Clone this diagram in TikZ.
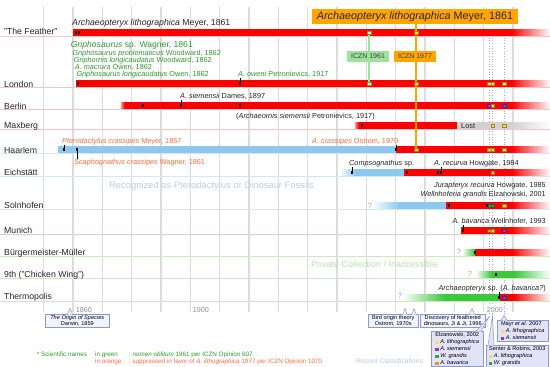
\documentclass[tikz,border=0pt]{standalone}
\usepackage{fontspec}
\setmainfont{Liberation Sans}
\newcommand{\myfs}[1]{\fontsize{#1}{#1}\selectfont}
\newcommand{\sqm}[1]{\textcolor{#1}{\rule{3.3pt}{3.3pt}}}
% horizontal fade made of thin strips: x1,x2,y1,y2,colour from,colour to
\newcommand{\hfade}[6]{%
  \foreach \k in {0,...,24}{%
    \pgfmathsetmacro{\xa}{#1+(#2-#1)*\k/25}%
    \pgfmathsetmacro{\xb}{#1+(#2-#1)*(\k+1)/25+0.25}%
    \pgfmathtruncatemacro{\pc}{100-4*\k-2}%
    \fill[#5!\pc!#6] (\xa,#3) rectangle (\xb,#4);
  }%
}
\definecolor{bred}{HTML}{FF0000}
\colorlet{pinkred}{bred!35}
\definecolor{bblue}{HTML}{8CC8F0}
\definecolor{bgreen}{HTML}{3CC83C}
\definecolor{tgreen}{HTML}{2E9A2E}
\definecolor{torange}{HTML}{FF6A3C}
\definecolor{iorange}{HTML}{FFA500}
\definecolor{igreen}{HTML}{9CE49C}
\definecolor{gridc}{HTML}{DCDCDC}
\definecolor{dotc}{HTML}{A8A8F0}
\definecolor{plith}{HTML}{FFE040}
\definecolor{psiem}{HTML}{8A3CC8}
\definecolor{pgran}{HTML}{3CA03C}
\definecolor{pbav}{HTML}{E89418}
\definecolor{ppale}{HTML}{DDE8A8}
\definecolor{boxf}{HTML}{F0F4FF}
\definecolor{boxc}{HTML}{E2E2F8}
\definecolor{boxd}{HTML}{8A96E6}
\definecolor{rowred}{HTML}{F4C4C4}
\definecolor{rowblue}{HTML}{D4E6F4}
\definecolor{rowgreen}{HTML}{C8ECC0}
\definecolor{fadetext}{HTML}{C4CCDA}
\definecolor{fadegreen}{HTML}{B8E2B0}
\definecolor{lostgray}{HTML}{D2D2D2}
\definecolor{recent}{HTML}{B8C8E2}
\tikzset{
  rowlab/.style={anchor=base west, inner sep=0pt, font=\myfs{8.7}, text=black!85},
  gsci/.style={anchor=base west, inner sep=0pt, font=\myfs{7.3}, text=tgreen},
  osci/.style={anchor=base west, inner sep=0pt, font=\myfs{7.3}, text=torange},
  ksci/.style={anchor=base west, inner sep=0pt, font=\myfs{7.3}, text=black!85},
  esci/.style={anchor=base east, inner sep=0pt, font=\myfs{7.3}, text=black!85},
  qm/.style={anchor=base, inner sep=0pt, font=\myfs{7.5}, text=black!35},
  gridl/.style={draw=gridc, line width=1.3pt},
  dotl/.style={draw=dotc, dotted, line width=0.6pt},
  mkr/.style={draw=#1!60!black, fill=#1, minimum size=3.4pt, inner sep=0pt, line width=0.3pt},
  dotm/.style={fill=black, minimum size=2.2pt, inner sep=0pt},
  tk/.style={draw=black, line width=0.4pt},
  cbox/.style={draw=boxd, fill=boxf, line width=0.5pt, inner sep=1pt, align=center, font=\fontsize{5.6}{6.5}\selectfont, anchor=north west},
  clbox/.style={draw=boxd, fill=boxc, line width=0.5pt, inner sep=1.5pt, align=left, font=\fontsize{5.6}{7}\selectfont, anchor=north west},
  yrlab/.style={anchor=base west, inner sep=0.6pt, font=\myfs{7.2}, text=black!45, fill=white},
  leg/.style={anchor=base west, inner sep=0pt, font=\myfs{6.3}},
  iczn/.style={inner sep=0pt, minimum width=42pt, minimum height=11pt, font=\myfs{7}, text=black!75},
}
\begin{document}
\begin{tikzpicture}[x=1pt,y=-1pt]
\useasboundingbox (0,0) rectangle (550,367);
\fill[white] (0,0) rectangle (550,367);
% grid
\foreach \gx in {43.7,73,102.3,131.7,161,190.3,219.6,249,278.3,307.6,337,366.3,395.6,425,454.3,483.6,512.9}
  \draw[gridl] (\gx,7) -- (\gx,312);
% row lines
\foreach \ry/\rc in {36/rowred,87/rowred,109/rowred,129/rowred,153/rowblue,176/rowblue,209/rowblue,234/rowred,256/rowgreen,278/rowgreen,301/rowgreen}
  \draw[\rc, line width=0.7pt] (0,\ry) -- (550,\ry);
% dotted classification lines
\foreach \dx in {489,492.5,504}
  \draw[dotl] (\dx,30) -- (\dx,317);
% bars
% Feather
\fill[bred] (73,29) rectangle (512,36);
\hfade{512}{551}{29}{36}{bred}{white}
% London
\fill[bred] (76,80) rectangle (512,87);
\hfade{512}{551}{80}{87}{bred}{white}
% Berlin
\hfade{121}{125}{102}{109}{pinkred}{bred}
\fill[bred] (125,102) rectangle (512,109);
\hfade{512}{551}{102}{109}{bred}{white}
% Maxberg
\hfade{355}{359}{122}{129}{pinkred}{bred}
\fill[bred] (359,122) rectangle (457,129);
\fill[lostgray] (457,122) rectangle (512,129);
\hfade{512}{551}{122}{129}{lostgray}{white}
% Haarlem
\fill[bblue] (58,146) rectangle (396,153);
\fill[bred] (396,146) rectangle (512,153);
\hfade{512}{551}{146}{153}{bred}{white}
% Eichstaett
\hfade{340}{356}{169}{176}{white}{bblue}
\fill[bblue] (356,169) rectangle (404,176);
\fill[bred] (404,169) rectangle (512,176);
\hfade{512}{551}{169}{176}{bred}{white}
% Solnhofen
\hfade{372}{400}{202}{209}{white}{bblue}
\fill[bblue] (400,202) rectangle (446,209);
\fill[bred] (446,202) rectangle (512,209);
\hfade{512}{551}{202}{209}{bred}{white}
% Munich
\fill[bred] (461,227) rectangle (512,234);
\hfade{512}{551}{227}{234}{bred}{white}
% Buergermeister-Mueller
\hfade{463}{475}{249}{256}{white}{bgreen}
\fill[bred] (475,249) rectangle (512,256);
\hfade{512}{551}{249}{256}{bred}{white}
% 9th
\hfade{476}{492}{271}{278}{white}{bgreen}
\fill[bgreen] (492,271) rectangle (515,278);
\hfade{515}{551}{271}{278}{bgreen}{white}
% Thermopolis
\hfade{403}{445}{294}{301}{white}{bgreen}
\fill[bgreen] (445,294) rectangle (500,301);
\fill[bred] (500,294) rectangle (514,301);
\hfade{514}{551}{294}{301}{bred}{white}

% ICZN vertical lines
\coordinate (g61a) at (369,32.5);
\coordinate (g61b) at (369,83.5);
\coordinate (o77a) at (416,24);
\coordinate (o77b) at (416,149.5);
\draw[igreen, line width=2pt] (g61a) -- (g61b);
\draw[iorange, line width=2pt] (o77a) -- (o77b);

% markers
\node[dotm] (fe1) at (76,32.5) {};
\node[dotm] (fe2) at (79,32.5) {};
\node[mkr=ppale] (fe3) at (g61a) {};
\node[mkr=plith] (fe4) at (416,32.5) {};
\node[dotm] (lo1) at (78,83.5) {};
\node[dotm] (lo2) at (240,83.5) {};
\node[mkr=ppale] (lo3) at (g61b) {};
\foreach \x/\c [count=\i] in {416/plith,489/plith,492.5/plith,504/plith}
  \node[mkr=\c] (lom\i) at (\x,83.5) {};
\node[dotm] (be1) at (143,105.5) {};
\node[dotm] (be2) at (181,105.5) {};
\node[dotm] (be3) at (240,105.5) {};
\foreach \x/\c [count=\i] in {489/psiem,492.5/plith,504/psiem}
  \node[mkr=\c] (bem\i) at (\x,105.5) {};
\node[dotm] (ma1) at (362,125.5) {};
\foreach \x/\c [count=\i] in {492.5/plith,504/plith}
  \node[mkr=\c] (mam\i) at (\x,125.5) {};
\node[dotm] (ha1) at (64,149.5) {};
\node[dotm] (ha2) at (77,149.5) {};
\node[dotm] (ha3) at (396,149.5) {};
\node[mkr=plith] (ha4) at (o77b) {};
\foreach \x/\c [count=\i] in {489/plith,492.5/plith,504/plith}
  \node[mkr=\c] (ham\i) at (\x,149.5) {};
\node[dotm] (ei1) at (352,172.5) {};
\node[dotm] (ei2) at (407,172.5) {};
\node[dotm] (ei3) at (438,172.5) {};
\node[dotm] (ei4) at (441,172.5) {};
\node[mkr=plith] (ei5) at (492.5,172.5) {};
\node[dotm] (so1) at (449,205.5) {};
\node[dotm] (so2) at (487,205.5) {};
\foreach \x/\c [count=\i] in {489.5/pgran,492.5/pgran,504/plith}
  \node[mkr=\c] (som\i) at (\x,205.5) {};
\node[dotm] (mu1) at (463,230.5) {};
\foreach \x/\c [count=\i] in {489/pbav,492.5/plith,504/psiem}
  \node[mkr=\c] (mum\i) at (\x,230.5) {};
\node[dotm] (bm1) at (475,252.5) {};
\node[dotm] (ni1) at (496,274.5) {};
\node[dotm] (th1) at (499,297.5) {};
\node[mkr=psiem] (th2) at (504,297.5) {};

% top box and ICZN boxes
\node[fill=iorange, inner sep=0pt, minimum width=206pt, minimum height=15pt, font=\myfs{10.8}, text=black!85] (otitle) at (415,16.5) {\textit{Archaeopteryx lithographica} Meyer, 1861};
\node[iczn, fill=igreen] (iczn61) at (368,56.5) {ICZN 1961};
\node[iczn, fill=iorange] (iczn77) at (415,56.5) {ICZN 1977};

% row labels
\node[rowlab] (rFeather) at (4,34.5) {"The Feather"};
\node[rowlab] (rLondon) at (4,87) {London};
\node[rowlab] (rBerlin) at (4,109) {Berlin};
\node[rowlab] (rMaxberg) at (4,128.5) {Maxberg};
\node[rowlab] (rHaarlem) at (4,153) {Haarlem};
\node[rowlab] (rEich) at (4,175) {Eichstätt};
\node[rowlab] (rSoln) at (4,208) {Solnhofen};
\node[rowlab] (rMunich) at (4,233) {Munich};
\node[rowlab] (rBM) at (4,255) {Bürgermeister-Müller};
\node[rowlab] (rNinth) at (4,277) {9th ("Chicken Wing")};
\node[rowlab] (rThermo) at (4,299) {Thermopolis};

% scientific name labels
\node[ksci, font=\myfs{8.7}] (nLith) at (72,25) {\textit{Archaeopteryx lithographica} Meyer, 1861};
\node[gsci, font=\myfs{8.6}] (nGsp) at (70.7,47.5) {\textit{Griphosaurus} sp. Wagner, 1861};
\node[gsci] (nGprob) at (72.3,55) {\textit{Griphosaurus problematicus} Woodward, 1862};
\node[gsci] (nGlong) at (73.7,62.5) {\textit{Griphornis longicaudatus} Woodward, 1862};
\node[gsci] (nMacr) at (74.7,69) {\textit{A. macrura} Owen, 1862};
\node[gsci] (nGlOw) at (76.3,76.5) {\textit{Griphosaurus longicaudatus} Owen, 1862};
\node[gsci] (nOweni) at (238,76.5) {\textit{A. oweni} Petronievics, 1917};
\node[ksci] (nSiem) at (180,98.5) {\textit{A. siemensii} Dames, 1897};
\node[ksci] (nArchS) at (236,118.5) {(\textit{Archaeornis siemensii} Petronievics, 1917)};
\node[ksci, font=\myfs{7.4}] (nLost) at (461,128) {Lost};
\node[osci] (nPtero) at (62,143) {\textit{Pterodactylus crassipes} Meyer, 1857};
\node[osci] (nScaph) at (74,164) {\textit{Scaphognathus crassipes} Wagner, 1861};
\node[osci] (nCrass) at (312,143.5) {\textit{A. crassipes} Ostrom, 1970};
\node[ksci] (nCompso) at (349,165.5) {\textit{Compsognathus} sp.};
\node[ksci] (nRecurva) at (434,165.5) {\textit{A. recurva} Howgate, 1984};
\node[anchor=base west, inner sep=0pt, font=\myfs{9.4}, text=fadetext] (nRecog) at (109,188) {Recognized as Pterodactylus or Dinosaur Fossils};
\node[esci] (nJura) at (546,187) {\textit{Jurapteryx recurva} Howgate, 1985};
\node[esci] (nWelln) at (546,196.5) {\textit{Wellnhoferia grandis} Elzanowski, 2001};
\node[esci] (nBav) at (546,223.5) {\textit{A. bavarica} Wellnhofer, 1993};
\node[anchor=base west, inner sep=0pt, font=\myfs{9}, text=fadegreen] (nPriv) at (311,267) {Private Collection / Inaccessible};
\node[esci] (nThermo) at (546,290.5) {\textit{Archaeopteryx} sp. (\textit{A. bavarica?})};
\node[qm] (q1) at (370,208) {?};
\node[qm] (q2) at (459,254.5) {?};
\node[qm] (q3) at (470,276.5) {?};
\node[qm] (q4) at (400,298.5) {?};

% label ticks
\draw[tk] (lo2) -- (lo2 |- nOweni.south);
\draw[tk] (be2) -- (be2 |- nSiem.south);
\draw[tk] (ha1) -- (ha1 |- nPtero.south);
\draw[tk] (ha2) -- (ha2 |- nScaph.north);
\draw[tk] (ha3) -- (ha3 |- nCrass.south);
\draw[tk] (ei1) -- (ei1 |- nCompso.south);
\draw[tk] (ei4) -- (ei4 |- nRecurva.south);
\draw[tk] (mu1) -- (mu1 |- nBav.south);
\draw[tk] (th1) -- (th1 |- nThermo.south);

% axis labels
\node[yrlab] (y1860) at (75,312) {1860};
\node[yrlab] (y1900) at (192,312) {1900};
\node[yrlab] (y2000) at (486,312) {2000};

% bottom callouts
\node[cbox, minimum width=64pt, minimum height=13pt] (bOrigin) at (45,314) {\textit{The Origin of Species}\\Darwin, 1859};
\fill[boxf] (67.5,314.7) -- (70,308.5) -- (72.5,314.7) -- cycle;
\draw[boxd, line width=0.5pt] (67.5,314) -- (70,308.5) -- (72.5,314);
\node[cbox, minimum width=50pt, minimum height=13pt] (bBird) at (368,314) {Bird origin theory\\Ostrom, 1970s};
\fill[boxf] (403,314.7) -- (405,308.5) -- (407,314.7) -- cycle;
\draw[boxd, line width=0.5pt] (403,314) -- (405,308.5) -- (407,314);
\fill[boxf] (412,314.7) -- (414,308.5) -- (416,314.7) -- cycle;
\draw[boxd, line width=0.5pt] (412,314) -- (414,308.5) -- (416,314);
\node[cbox, minimum width=65pt, minimum height=13pt] (bDisc) at (420,314) {Discovery of feathered\\dinosaurs, Ji \& Ji, 1996};
\fill[boxf] (469.5,314.7) -- (472,308.5) -- (474.5,314.7) -- cycle;
\draw[boxd, line width=0.5pt] (469.5,314) -- (472,308.5) -- (474.5,314);

\node[clbox, minimum width=52pt, minimum height=35pt] (bElz) at (431,331) {Elzanowski, 2002\\\sqm{plith} \textit{A. lithographica}\\\sqm{psiem} \textit{A. siemensii}\\\sqm{pgran} \textit{W. grandis}\\\sqm{pbav} \textit{A. bavarica}};
\fill[boxc] (476,331.7) -- (489,317) -- (481,331.7) -- cycle;
\draw[boxd, line width=0.5pt] (476,331) -- (489,317) -- (481,331);
\node[clbox, minimum width=51pt, minimum height=21pt] (bMayr) at (497,320) {Mayr \textit{et al.} 2007\\\sqm{plith} \textit{A. lithographica}\\\sqm{psiem} \textit{A. siemensii}};
\fill[boxc] (501,320.7) -- (504,315.5) -- (507,320.7) -- cycle;
\draw[boxd, line width=0.5pt] (501,320) -- (504,315.5) -- (507,320);
\node[clbox, minimum width=62pt, minimum height=21pt] (bSenter) at (486,345) {Senter \& Robins, 2003\\\sqm{plith} \textit{A. lithographica}\\\sqm{pgran} \textit{W. grandis}};
\fill[boxc] (488,345.7) -- (492.5,316) -- (494,345.7) -- cycle;
\draw[boxd, line width=0.5pt] (488,345) -- (492.5,316) -- (494,345);

% legend
\node[leg, text=tgreen] (lgA) at (36.7,356) {* Scientific names};
\node[leg, text=tgreen] (lgB) at (95,356) {in green};
\node[leg, text=tgreen] (lgC) at (128.3,356) {: \textit{nomen oblitum} 1961 per ICZN Opinion 607};
\node[leg, text=torange] (lgD) at (95,363) {in orange};
\node[leg, text=torange] (lgE) at (128.3,363) {: suppressed in favor of \textit{A. lithographica} 1977 per ICZN Opinion 1070};
\node[leg, text=recent, font=\myfs{6.8}] (lgR) at (356,363) {Recent Classifications};
\end{tikzpicture}
\end{document}
